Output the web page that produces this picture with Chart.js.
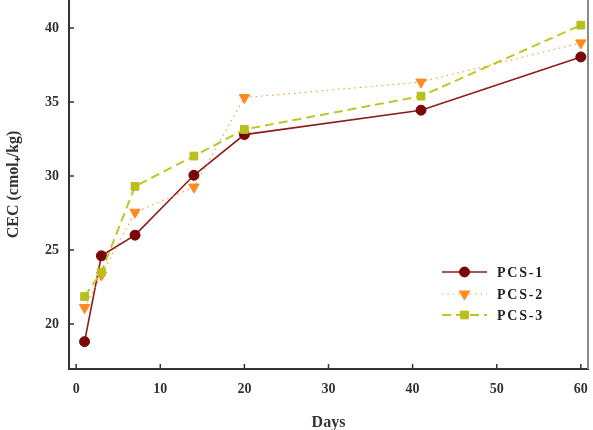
<!DOCTYPE html>
<html><head><meta charset="utf-8">
<script src="https://cdn.jsdelivr.net/npm/chart.js@4.4.1/dist/chart.umd.min.js"></script>
<style>html,body{margin:0;padding:0;background:#fff}#wrap{width:593px;height:430px;position:relative}</style>
</head><body><div id="wrap"><canvas id="c"></canvas></div>
<script>
const days = [1, 3, 7, 14, 20, 41, 60];
const pcs1 = [18.8, 24.6, 26.0, 30.05, 32.8, 34.45, 38.05];
const pcs2 = [21.1, 23.3, 27.55, 29.25, 35.3, 36.35, 39.0];
const pcs3 = [21.85, 23.5, 29.3, 31.35, 33.15, 35.4, 40.2];
const seriesNames = ['PCS-1', 'PCS-2', 'PCS-3'];
const xTicks = [0, 10, 20, 30, 40, 50, 60];
const yTicks = [20, 25, 30, 35, 40];
const xTitle = 'Days';
const yTitle = 'CEC (cmol\u208A/kg)';

const serif = "'Liberation Serif', 'Times New Roman', serif";
const toPts = arr => arr.map((v, i) => ({x: days[i], y: v}));

const styles = [
  {line: '#8E1B1B', point: '#7A0606', width: 1.6, dash: [], style: 'circle', radius: 5, rotation: 0},
  {line: '#FF9A40', point: '#FF8A1E', width: 1.2, dash: [1.5, 4], style: 'triangle', radius: 6, rotation: 180},
  {line: '#BFC727', point: '#B8C01A', width: 2, dash: [9, 5], style: 'rect', radius: 5.5, rotation: 0}
];
const values = [pcs1, pcs2, pcs3];

const datasets = values.map((v, i) => ({
  label: seriesNames[i],
  data: toPts(v),
  borderColor: styles[i].line,
  borderWidth: styles[i].width,
  borderDash: styles[i].dash,
  backgroundColor: styles[i].point,
  pointBackgroundColor: styles[i].point,
  pointBorderColor: styles[i].point,
  pointBorderWidth: 1,
  pointStyle: styles[i].style,
  pointRadius: styles[i].radius,
  pointRotation: styles[i].rotation,
  tension: 0,
  clip: false,
  order: 3 - i
}));

const zeroPad = s => { s.paddingTop = 0; s.paddingBottom = 0; s.paddingLeft = 0; s.paddingRight = 0; };

const decor = {
  id: 'decor',
  afterDraw(chart) {
    const ctx = chart.ctx, a = chart.chartArea;
    const xs = chart.scales.x, ys = chart.scales.y;
    ctx.save();
    ctx.strokeStyle = '#8a8a8a'; ctx.lineWidth = 2;
    ctx.beginPath(); ctx.moveTo(a.right, a.top); ctx.lineTo(a.right, a.bottom); ctx.stroke();
    ctx.strokeStyle = '#333'; ctx.lineWidth = 1.5;
    xTicks.forEach(t => { const px = xs.getPixelForValue(t);
      ctx.beginPath(); ctx.moveTo(px, a.bottom); ctx.lineTo(px, a.bottom - 5); ctx.stroke(); });
    yTicks.forEach(t => { const py = ys.getPixelForValue(t);
      ctx.beginPath(); ctx.moveTo(a.left, py); ctx.lineTo(a.left + 5, py); ctx.stroke(); });
    const x0 = a.right - 146, x1 = a.right - 101, mx = (x0 + x1) / 2, tx = a.right - 91;
    const rowY = [a.bottom - 97, a.bottom - 75, a.bottom - 54];
    ctx.font = "bold 14px " + serif;
    ctx.textBaseline = 'middle';
    try { ctx.letterSpacing = '1.8px'; } catch (e) {}
    styles.forEach((s, i) => {
      const y = rowY[i];
      ctx.strokeStyle = s.line; ctx.lineWidth = s.width; ctx.setLineDash(s.dash);
      ctx.beginPath(); ctx.moveTo(x0, y); ctx.lineTo(x1, y); ctx.stroke();
      ctx.setLineDash([]);
      ctx.fillStyle = s.point; ctx.strokeStyle = s.point; ctx.lineWidth = 1;
      Chart.helpers.drawPoint(ctx, {pointStyle: s.style, rotation: s.rotation, radius: s.radius, borderWidth: 1}, mx, y);
      ctx.fillStyle = '#222';
      ctx.fillText(seriesNames[i], tx, y + 1);
    });
    ctx.restore();
  }
};

new Chart(document.getElementById('c'), {
  type: 'line',
  data: {datasets},
  plugins: [decor],
  options: {
    responsive: true, maintainAspectRatio: false, animation: false,
    layout: {autoPadding: false, padding: {top: 0, right: 5, left: 0, bottom: 0}},
    plugins: {legend: {display: false}, tooltip: {enabled: false}},
    scales: {
      x: {
        type: 'linear', min: -0.85, max: 60.85,
        afterBuildTicks: s => { s.ticks = xTicks.map(v => ({value: v})); },
        afterFit: s => { s.height = 61; zeroPad(s); },
        grid: {display: false, drawTicks: false},
        border: {display: true, color: '#333', width: 2},
        ticks: {color: '#333', padding: 12, font: {family: serif, size: 14, weight: 'bold'}},
        title: {display: true, text: xTitle, color: '#333', padding: {top: 15, bottom: -2},
                font: {family: serif, size: 16, weight: 'bold'}}
      },
      y: {
        type: 'linear', min: 16.95, max: 41.9,
        afterBuildTicks: s => { s.ticks = yTicks.map(v => ({value: v})); },
        afterFit: s => { s.width = 69; zeroPad(s); },
        grid: {display: false, drawTicks: false},
        border: {display: true, color: '#333', width: 2},
        ticks: {color: '#333', padding: 10, font: {family: serif, size: 14, weight: 'bold'}},
        title: {display: true, text: yTitle, color: '#333', padding: {top: 4, bottom: 0},
                font: {family: serif, size: 16, weight: 'bold'}}
      }
    }
  }
});
</script>
</body></html>
